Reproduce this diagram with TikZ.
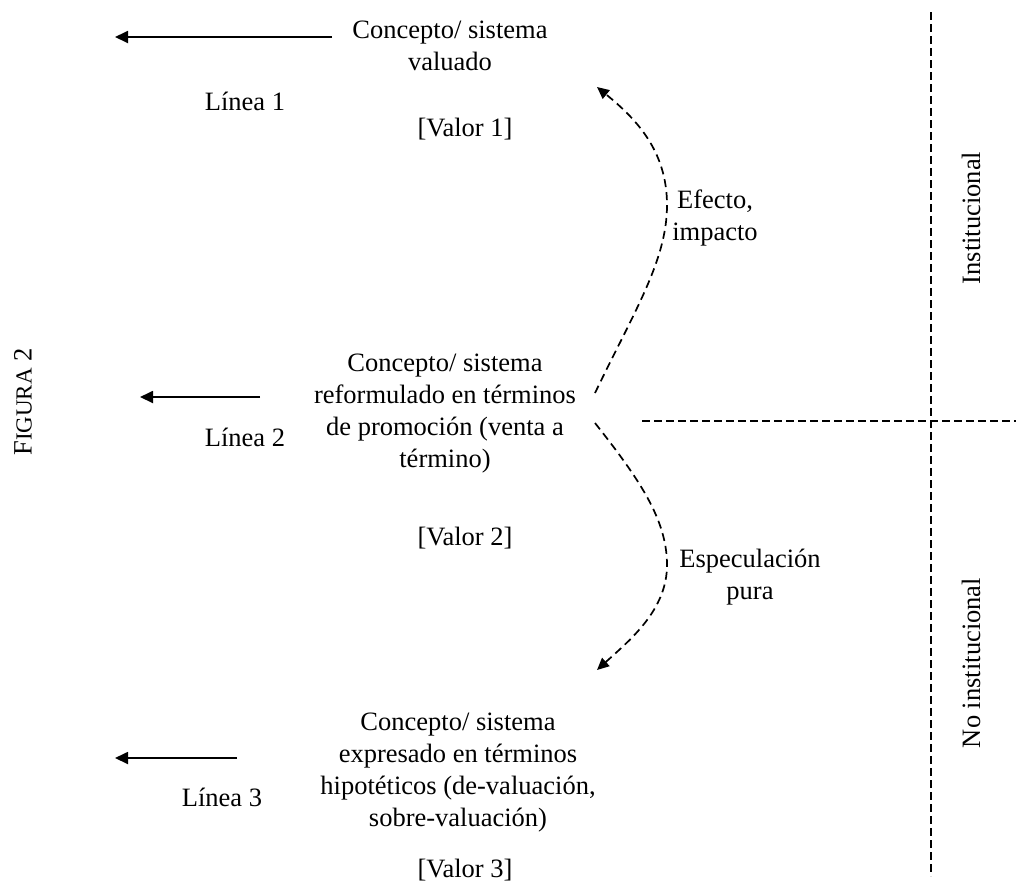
\documentclass[tikz,border=0pt]{standalone}
\usepackage{fontspec}
\setmainfont{Liberation Serif}
\usetikzlibrary{arrows.meta}
\begin{document}
\begin{tikzpicture}[x=1pt,y=-1pt,
  every node/.style={inner sep=0pt,outer sep=0pt,font=\fontsize{26.5}{32}\selectfont},
  block/.style={align=center,anchor=center},
  label/.style={anchor=base},
  side/.style={rotate=90,anchor=center},
  flow/.style={line width=1.8pt,-{Triangle[length=13pt,width=12pt]}},
  trend/.style={line width=1.7pt,dash pattern=on 8pt off 5pt,-{Triangle[length=12pt,width=11pt]}},
  divider/.style={line width=1.7pt,dash pattern=on 8pt off 4pt}]
\useasboundingbox (0,0) rectangle (1016,884);

% the three concepts
\node[block] (c1) at (450,46) {Concepto/ sistema\\valuado};
\node[block] (c2) at (445,414) {Concepto/ sistema\\reformulado en términos\\de promoción (venta a\\término)};
\node[block] (c3) at (458,773) {Concepto/ sistema\\expresado en términos\\hipotéticos (de-valuación,\\sobre-valuación)};

% values and lines
\node[label] (v1) at (465,136) {[Valor 1]};
\node[label] (v2) at (465,545) {[Valor 2]};
\node[label] (v3) at (465,877) {[Valor 3]};
\node[label] (l1) at (245,110) {Línea 1};
\node[label] (l2) at (245,446) {Línea 2};
\node[label] (l3) at (222,806) {Línea 3};

% arrows pointing left
\coordinate (a1s) at (332,37);  \coordinate (a1e) at (115,37);
\coordinate (a2s) at (260,397); \coordinate (a2e) at (140,397);
\coordinate (a3s) at (237,758); \coordinate (a3e) at (115,758);
\draw[flow] (a1s) -- (a1e);
\draw[flow] (a2s) -- (a2e);
\draw[flow] (a3s) -- (a3e);

% dashed curved arrows
\coordinate (up0) at (595,393);
\coordinate (up1) at (667,205);
\coordinate (up2) at (597,87);
\draw[trend] (up0) .. controls (635,310) and (667,260) .. (up1)
             .. controls (667,150) and (635,118) .. (up2);
\coordinate (dn0) at (595,423);
\coordinate (dn1) at (667,565);
\coordinate (dn2) at (597,670);
\draw[trend] (dn0) .. controls (640,480) and (667,520) .. (dn1)
             .. controls (667,610) and (630,640) .. (dn2);

\node[block] (eff) at (715,218) {Efecto,\\impacto};
\node[block] (esp) at (750,577) {Especulación\\pura};

% institutional divide
\coordinate (vtop) at (931,12);  \coordinate (vbot) at (931,876);
\coordinate (hl) at (642,421);   \coordinate (hr) at (1016,421);
\draw[divider] (vtop) -- (vbot);
\draw[divider] (hl) -- (hr);
\node[side] (inst) at (971,218) {Institucional};
\node[side] (noinst) at (971,663) {No institucional};

% figure caption
\node[side] (fig) at (23,402) {F{\fontsize{23}{23}\selectfont IGURA} 2};
\end{tikzpicture}
\end{document}
